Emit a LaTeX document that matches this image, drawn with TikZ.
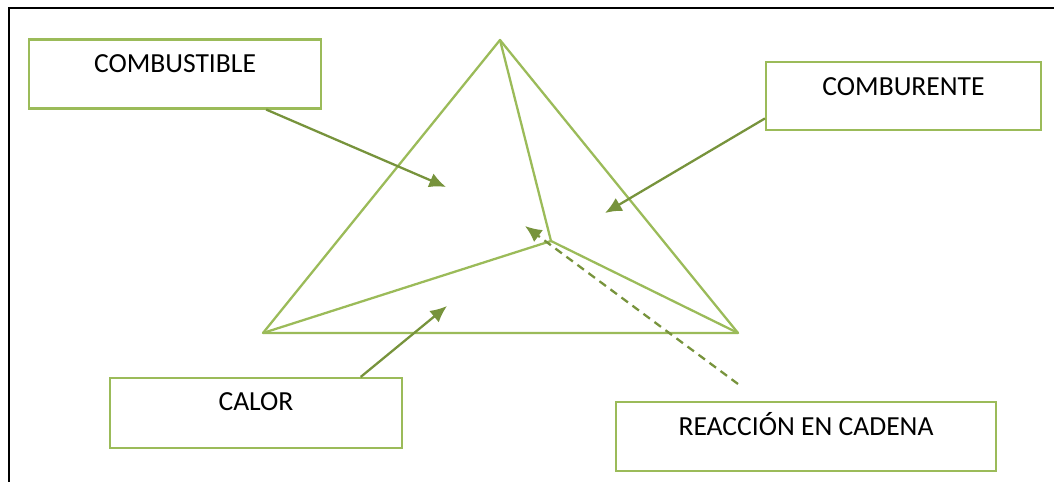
\documentclass[tikz,border=0pt]{standalone}
\usepackage{fontspec}
\setmainfont{Carlito}
\usetikzlibrary{calc,arrows.meta}

\definecolor{verdeclaro}{HTML}{9BBB59}
\definecolor{verdeoscuro}{HTML}{77933C}

\tikzset{
  caja/.style={draw=verdeclaro,line width=1.2pt,inner sep=0pt,minimum width=#1,
    text height=0.67cm,text depth=0.71cm,font=\fontsize{15.7}{18}\selectfont},
  arista/.style={draw=verdeclaro,line width=1.3pt,line join=round},
  flecha/.style={draw=verdeoscuro,line width=1.3pt,
    -{Latex[length=9.5pt,width=8.5pt]}},
}

\begin{document}
\begin{tikzpicture}[x=0.02cm,y=-0.02cm]
\useasboundingbox (0,0) rectangle (1054,482);

% marco
\draw[line width=1.4pt] (9,482) -- (9,8) -- (1054,8);

% tetraedro
\coordinate (apex) at (500,40);
\coordinate (izq) at (263,333);
\coordinate (der) at (738,333);
\coordinate (nucleo) at (551,241);

\draw[arista] (apex) -- (izq) -- (der) -- cycle;
\draw[arista] (apex) -- (nucleo);
\draw[arista] (izq) -- (nucleo) -- (der);

% cajas
\node[caja=5.84cm] (combustible) at (175,74) {COMBUSTIBLE};
\node[caja=5.5cm,text depth=0.69cm] (comburente) at (903.5,96) {COMBURENTE};
\node[caja=5.84cm,text height=0.66cm,text depth=0.74cm] (calor) at (256,413) {CALOR};
\node[caja=7.6cm,text height=0.66cm,text depth=0.72cm] (reaccion) at (806,436.5) {REACCIÓN EN CADENA};

% flechas
\coordinate (p1) at (446,187);
\coordinate (p2) at (605,213);
\coordinate (p3) at (447,306);
\coordinate (p4) at (525,226);
\coordinate (q4) at (738,384);

\draw[flecha] ($(combustible.south west)!0.81!(combustible.south east)$) -- (p1);
\draw[flecha] ($(comburente.north west)!0.82!(comburente.south west)$) -- (p2);
\draw[flecha] ($(calor.north west)!0.856!(calor.north east)$) -- (p3);
\draw[flecha,dash pattern=on 4.6pt off 3.2pt] (q4) -- (p4);

\end{tikzpicture}
\end{document}
